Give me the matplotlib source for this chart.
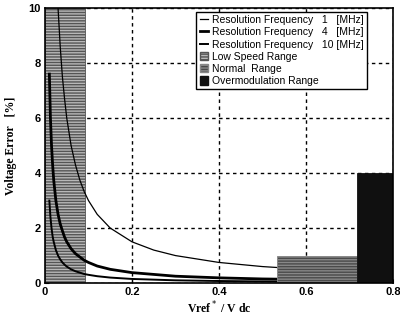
import numpy as np
import matplotlib
matplotlib.use("Agg")
import matplotlib.pyplot as plt
from matplotlib.patches import Patch
from matplotlib.lines import Line2D

# Curves: Vref*/Vdc vs voltage error [%]
x_1mhz = [0.03, 0.035, 0.04, 0.045, 0.05, 0.06, 0.07, 0.08, 0.09, 0.10, 0.12, 0.15, 0.20, 0.25, 0.30, 0.40, 0.50, 0.60, 0.80]
y_1mhz = [10.0, 8.6, 7.5, 6.7, 6.0, 5.0, 4.3, 3.75, 3.33, 3.0, 2.5, 2.0, 1.5, 1.2, 1.0, 0.75, 0.6, 0.5, 0.38]

x_4mhz = [0.01, 0.0125, 0.015, 0.0175, 0.02, 0.025, 0.03, 0.035, 0.04, 0.045, 0.05, 0.06, 0.07, 0.08, 0.09,
          0.10, 0.12, 0.15, 0.20, 0.30, 0.40, 0.50, 0.60, 0.80]
y_4mhz = [7.6, 6.0, 5.0, 4.3, 3.75, 3.0, 2.5, 2.15, 1.9, 1.67, 1.5, 1.25, 1.07, 0.95, 0.83,
          0.75, 0.62, 0.5, 0.38, 0.25, 0.19, 0.15, 0.13, 0.09]

x_10mhz = [0.01, 0.0125, 0.015, 0.0175, 0.02, 0.025, 0.03, 0.035, 0.04, 0.045, 0.05, 0.06, 0.07, 0.08, 0.09,
           0.10, 0.12, 0.15, 0.20, 0.30, 0.40, 0.50, 0.60, 0.80]
y_10mhz = [3.0, 2.4, 2.0, 1.7, 1.5, 1.2, 1.0, 0.86, 0.75, 0.67, 0.6, 0.5, 0.43, 0.38, 0.33,
           0.3, 0.25, 0.2, 0.15, 0.1, 0.075, 0.06, 0.05, 0.04]

curve_labels = ["Resolution Frequency   1   [MHz]",
                "Resolution Frequency   4   [MHz]",
                "Resolution Frequency   10 [MHz]"]

# Operating ranges (shaded boxes)
range_labels = ["Low Speed Range", "Normal  Range", "Overmodulation Range"]
range_start = [0.0, 0.533, 0.717]
range_end = [0.092, 0.717, 0.8]
range_height = [10.0, 1.0, 4.0]

xticks = [0, 0.2, 0.4, 0.6, 0.8]
xticklabels = ["0", "0.2", "0.4", "0.6", "0.8"]
yticks = [0, 2, 4, 6, 8, 10]

fig = plt.figure(figsize=(4, 3.25), dpi=100)
ax = fig.add_axes([0.1125, 0.129, 0.87, 0.846])

# boxes
styles = [dict(facecolor="#b8b8b8", edgecolor="#555555", hatch="------", zorder=1),
          dict(facecolor="#4a4a4a", edgecolor="#888888", hatch="------", zorder=4),
          dict(facecolor="#101010", edgecolor="#101010", hatch=None, zorder=4)]
for s, e, h, st in zip(range_start, range_end, range_height, styles):
    ax.bar(s, h, width=e - s, align="edge", linewidth=0.6, **st)

# curves
ax.plot(x_1mhz, y_1mhz, color="black", lw=0.9, zorder=3)
ax.plot(x_4mhz, y_4mhz, color="black", lw=2.0, zorder=3)
ax.plot(x_10mhz, y_10mhz, color="black", lw=1.4, zorder=3)

ax.set_xlim(0, 0.8)
ax.set_ylim(0, 10)
ax.set_xticks(xticks)
ax.set_xticklabels(xticklabels)
ax.set_yticks(yticks)
ax.tick_params(direction="in", length=3, labelsize=8, pad=3)
for lab in ax.get_xticklabels() + ax.get_yticklabels():
    lab.set_fontweight("bold")
    lab.set_family("Liberation Sans")
ax.set_axisbelow(True)
ax.grid(True, color="black", linestyle=(0, (2.5, 2.5)), linewidth=1.0)
for sp in ax.spines.values():
    sp.set_linewidth(1.2)
    sp.set_zorder(6)

ax.set_xlabel(r"Vref$^*$ / V dc", family="Liberation Serif", fontweight="bold", fontsize=8.5, labelpad=2)
ax.set_ylabel("Voltage Error   [%]", family="Liberation Serif", fontweight="bold", fontsize=8.5, labelpad=8)

handles = [Line2D([], [], color="black", lw=0.9),
           Line2D([], [], color="black", lw=2.0),
           Line2D([], [], color="black", lw=1.4)]
for st in styles:
    handles.append(Patch(facecolor=st["facecolor"], edgecolor=st["edgecolor"], hatch=st["hatch"]))
leg = ax.legend(handles, curve_labels + range_labels, loc="upper right",
                bbox_to_anchor=(0.925, 0.985), borderaxespad=0, fancybox=False,
                framealpha=1, edgecolor="black", labelspacing=0.2,
                handlelength=0.8, handleheight=0.9, handletextpad=0.4, borderpad=0.3,
                prop={"family": "Liberation Sans", "size": 7.5})
leg.get_frame().set_linewidth(1.0)
leg.set_zorder(5)

fig.savefig("out.png", dpi=100)
